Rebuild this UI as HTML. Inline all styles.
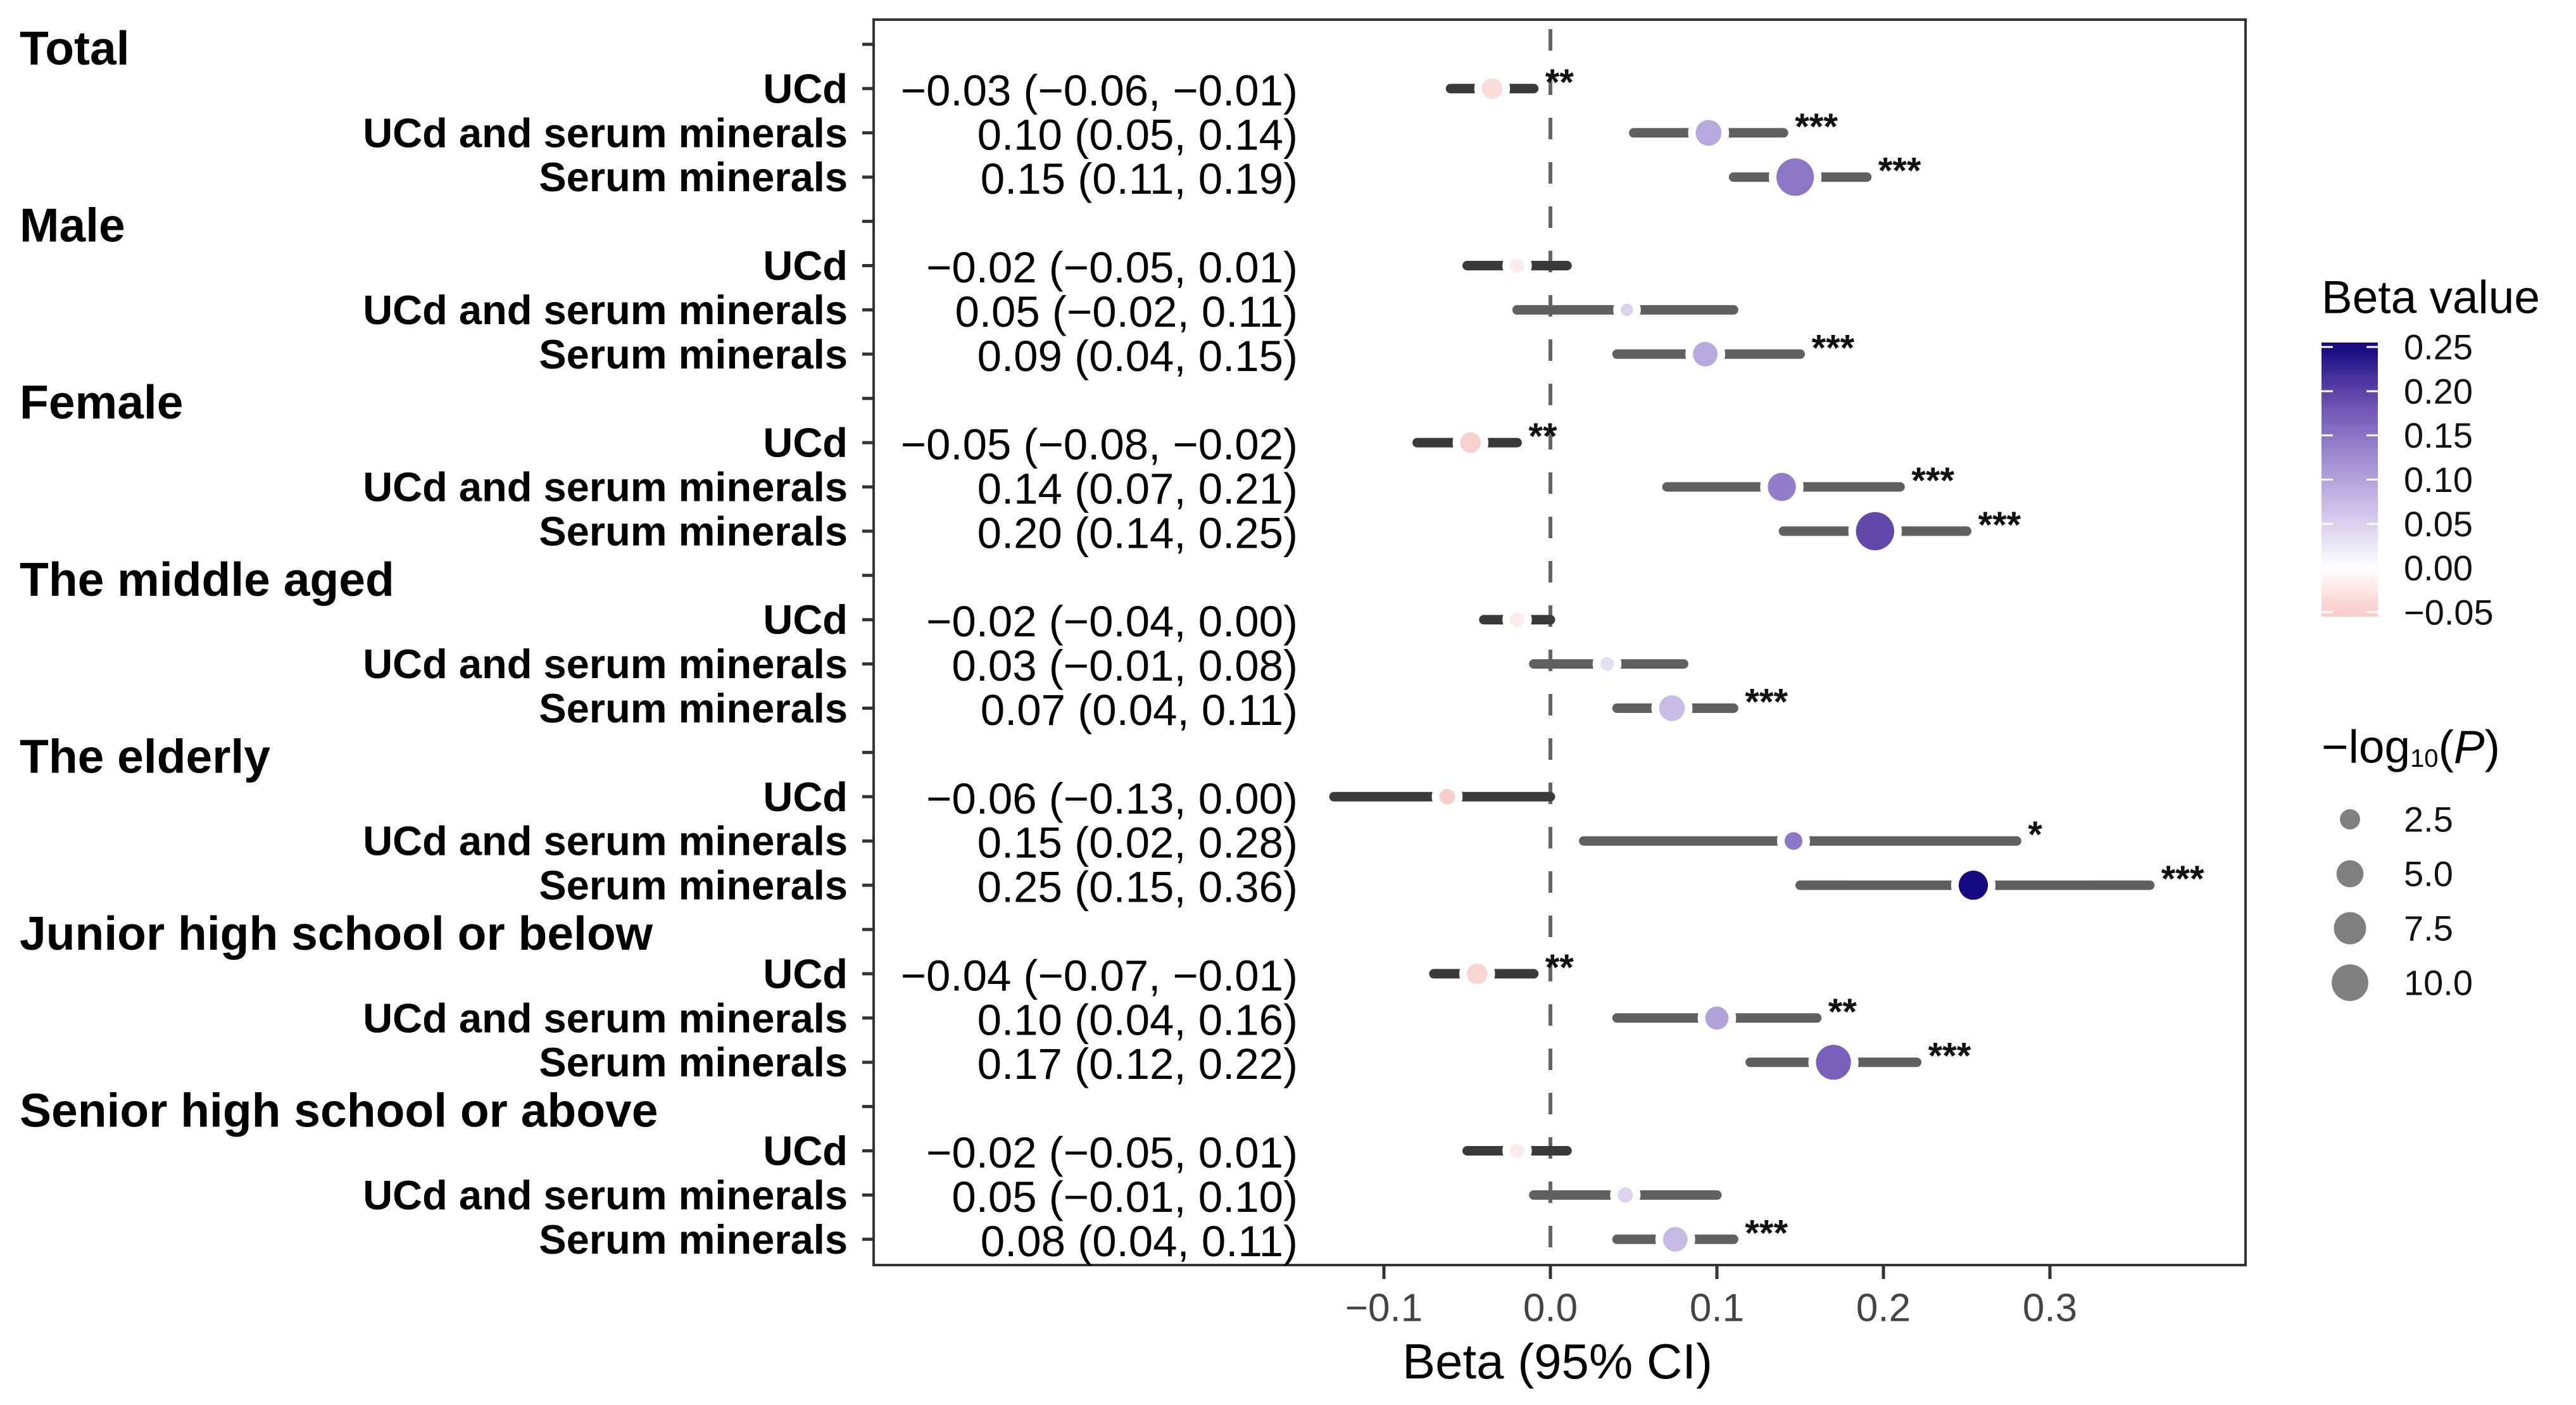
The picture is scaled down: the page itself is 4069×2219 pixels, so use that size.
<!DOCTYPE html>
<html><head><meta charset="utf-8"><style>
html,body{margin:0;padding:0;background:#fff;}
svg{display:block;font-family:"Liberation Sans",Arial,sans-serif;}
</style></head><body>
<svg id="chart" width="4069" height="2219" viewBox="0 0 4069 2219" xmlns="http://www.w3.org/2000/svg"></svg>
<script>
const groups = ["Total","Male","Female","The middle aged","The elderly","Junior high school or below","Senior high school or above"];
const models = ["UCd","UCd and serum minerals","Serum minerals"];
const betas = [-0.035,0.095,0.147, -0.02,0.046,0.093, -0.048,0.139,0.195, -0.02,0.034,0.073, -0.062,0.146,0.254, -0.044,0.10,0.17, -0.02,0.045,0.075];
const lows  = [-0.06,0.05,0.11, -0.05,-0.02,0.04, -0.08,0.07,0.14, -0.04,-0.01,0.04, -0.13,0.02,0.15, -0.07,0.04,0.12, -0.05,-0.01,0.04];
const highs = [-0.01,0.14,0.19, 0.01,0.11,0.15, -0.02,0.21,0.25, 0.00,0.08,0.11, 0.00,0.28,0.36, -0.01,0.16,0.22, 0.01,0.10,0.11];
const logp  = [2.6,4.5,10.5, 1.0,0.7,4.0, 2.6,5.5,11.0, 1.0,0.9,4.5, 1.3,1.8,6.0, 2.6,3.5,9.0, 1.0,1.2,4.0];
const stars = ["**","***","***", "","","***", "**","***","***", "","","***", "","*","***", "**","**","***", "","","***"];
const labels = ["−0.03 (−0.06, −0.01)","0.10 (0.05, 0.14)","0.15 (0.11, 0.19)","−0.02 (−0.05, 0.01)","0.05 (−0.02, 0.11)","0.09 (0.04, 0.15)","−0.05 (−0.08, −0.02)","0.14 (0.07, 0.21)","0.20 (0.14, 0.25)","−0.02 (−0.04, 0.00)","0.03 (−0.01, 0.08)","0.07 (0.04, 0.11)","−0.06 (−0.13, 0.00)","0.15 (0.02, 0.28)","0.25 (0.15, 0.36)","−0.04 (−0.07, −0.01)","0.10 (0.04, 0.16)","0.17 (0.12, 0.22)","−0.02 (−0.05, 0.01)","0.05 (−0.01, 0.10)","0.08 (0.04, 0.11)"];
const xTicks = [-0.1,0.0,0.1,0.2,0.3];
const xTickLabels = ["−0.1","0.0","0.1","0.2","0.3"];
const colorTicks = [0.25,0.20,0.15,0.10,0.05,0.00,-0.05];
const colorTickLabels = ["0.25","0.20","0.15","0.10","0.05","0.00","−0.05"];
const sizeTicks = [2.5,5.0,7.5,10.0];
const sizeTickLabels = ["2.5","5.0","7.5","10.0"];

const svg = document.getElementById('chart');
const NS = "http://www.w3.org/2000/svg";
function mk(tag, attrs, parent){const e=document.createElementNS(NS,tag);for(const k in attrs)e.setAttribute(k,attrs[k]);(parent||svg).appendChild(e);return e;}
const P = {l:1380,t:31,r:3547,b:1998};
const x = v => 2449 + v*2630;
const y = k => 70 + k*69.9;
const rad = v => 3 + 8.2*Math.sqrt(v);
const stops = [[-0.05,[248,206,202]],[0,[255,255,255]],[0.05,[217,208,238]],[0.10,[179,163,220]],[0.15,[138,116,198]],[0.20,[93,67,168]],[0.25,[21,10,128]]];
function col(v){v=Math.max(-0.05,Math.min(0.25,v));for(let i=0;i<stops.length-1;i++){const a=stops[i],b=stops[i+1];if(v<=b[0]){const t=(v-a[0])/(b[0]-a[0]);const c=a[1].map((q,j)=>Math.round(q+(b[1][j]-q)*t));return `rgb(${c.join(',')})`;}}return 'rgb(21,10,128)';}

const panel = mk('rect',{x:P.l,y:P.t,width:P.r-P.l,height:P.b-P.t,fill:'#fff',stroke:'#333','stroke-width':4});


const zl = mk('line',{x1:x(0),x2:x(0),y1:P.t+15,y2:P.b,stroke:'#666','stroke-width':6,'stroke-dasharray':'34 36'});



for(let g=0;g<groups.length;g++){
  const hk = g*4;
  const ht = mk('line',{x1:P.l-18,x2:P.l,y1:y(hk),y2:y(hk),stroke:'#333','stroke-width':5});
  
  
  const gl = mk('text',{x:31,y:y(hk)+6,'font-size':75,'font-weight':'bold','dominant-baseline':'central',fill:'#000'});
  gl.textContent = groups[g];
  
  
  for(let m=0;m<3;m++){
    const i = g*3+m, k = hk+1+m, yy = y(k);
    const t = mk('line',{x1:P.l-18,x2:P.l,y1:yy,y2:yy,stroke:'#333','stroke-width':5});
    
    
    const ml = mk('text',{x:1339,y:yy,'font-size':65,'font-weight':'bold','text-anchor':'end','dominant-baseline':'central',fill:'#000'});
    ml.textContent = models[m];
    
    
    const el = mk('text',{x:2050,y:yy+3,'font-size':69,'text-anchor':'end','dominant-baseline':'central',fill:'#000'});
    el.textContent = labels[i];
    
    
    const ci = mk('line',{x1:x(lows[i]),x2:x(highs[i]),y1:yy,y2:yy,stroke:m===0?'#3a3a3a':'#606060','stroke-width':15,'stroke-linecap':'round'});
    
    
    const r = rad(logp[i]);
    const halo = mk('circle',{cx:x(betas[i]),cy:yy,r:r+12,fill:'#fff'});
    
    
    const pt = mk('circle',{cx:x(betas[i]),cy:yy,r:r,fill:col(betas[i])});
    
    
    if(stars[i]){
      const st = mk('text',{x:x(highs[i])+18,y:yy+10,'font-size':58,'font-weight':'bold',fill:'#111'});
      st.textContent = stars[i];
      
      
    }
  }
}
for(let j=0;j<xTicks.length;j++){
  const tk = mk('line',{x1:x(xTicks[j]),x2:x(xTicks[j]),y1:P.b,y2:P.b+22,stroke:'#333','stroke-width':5});
  
  
  const tl = mk('text',{x:x(xTicks[j]),y:2066,'font-size':62,'text-anchor':'middle','dominant-baseline':'central',fill:'#444'});
  tl.textContent = xTickLabels[j];
  
  
}
const xt = mk('text',{x:2460,y:2150,'font-size':78,'text-anchor':'middle','dominant-baseline':'central',fill:'#000'});
xt.textContent = 'Beta (95% CI)';



const lt = mk('text',{x:3667,y:470,'font-size':73,'dominant-baseline':'central',fill:'#000'});
lt.textContent = 'Beta value';


const defs = mk('defs',{});
const lg = mk('linearGradient',{id:'cg',x1:0,y1:1,x2:0,y2:0},defs);
const cb0=541, cb1=974, vTop=0.255, vBot=-0.055;
const cy = v => cb0 + (vTop-v)/(vTop-vBot)*(cb1-cb0);
for(let s=0;s<=30;s++){const v=vBot+(vTop-vBot)*s/30;mk('stop',{offset:s/30,'stop-color':col(v)},lg);}
const cbar = mk('rect',{x:3667,y:cb0,width:89,height:cb1-cb0,fill:'url(#cg)'});


for(let j=0;j<colorTicks.length;j++){
  const yy = cy(colorTicks[j]);
  mk('line',{x1:3667,x2:3685,y1:yy,y2:yy,stroke:'#fff','stroke-width':3});
  mk('line',{x1:3738,x2:3756,y1:yy,y2:yy,stroke:'#fff','stroke-width':3});
  const cl = mk('text',{x:3797,y:yy,'font-size':56,'dominant-baseline':'central',fill:'#111'});
  cl.textContent = colorTickLabels[j];
  
  
}
const sl = mk('text',{x:3667,y:1180,'font-size':73,'dominant-baseline':'central',fill:'#000'});
sl.innerHTML = '−log<tspan font-size="40" dy="18">10</tspan><tspan dy="-18">(</tspan><tspan font-style="italic">P</tspan>)';


for(let j=0;j<sizeTicks.length;j++){
  const yy = 1294 + j*86;
  const c = mk('circle',{cx:3712,cy:yy,r:rad(sizeTicks[j]),fill:'#7f7f7f'});
  
  
  const t = mk('text',{x:3797,y:yy,'font-size':56,'dominant-baseline':'central',fill:'#111'});
  t.textContent = sizeTickLabels[j];
  
  
}
</script>
</body></html>
